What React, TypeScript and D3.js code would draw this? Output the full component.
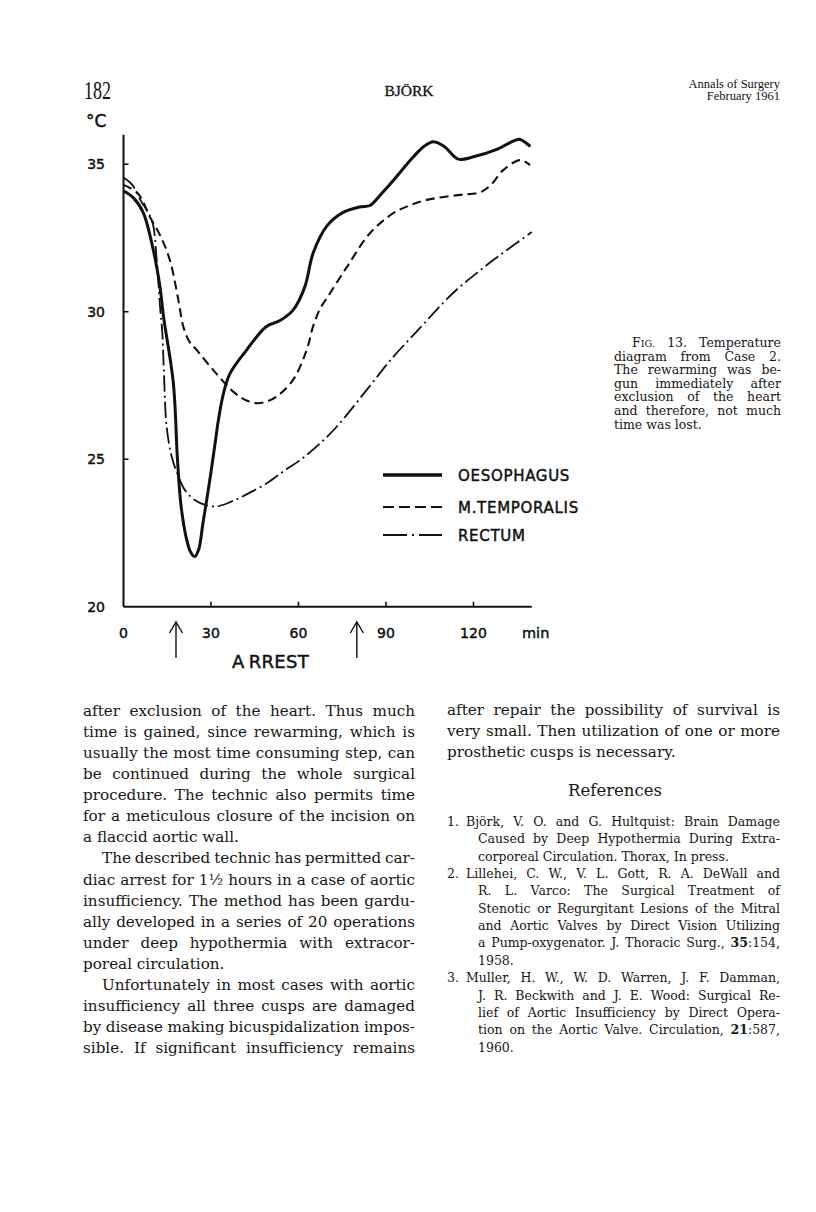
import React from 'react';
import * as d3 from 'd3';

// ---------- chart data ----------
const xTicks = [0, 30, 60, 90, 120];
const yTicks = [20, 25, 30, 35];
const arrestTimes = [18, 80];

const oesophagusT = [0, 3.5, 6.8, 10.2, 12.5, 13.7, 17.1, 18.5, 19.75, 21.6, 23, 24.4, 25.8, 27.2, 29.6, 31.5, 32.5, 34.2, 36.5, 42.2, 49, 53.7, 58.2, 62.2, 65, 69.7, 75, 81, 84.5, 88, 92.5, 99.4, 103, 106.2, 110, 114.8, 120, 128, 134, 136, 139.5];
const oesophagusV = [34.1, 33.85, 33.35, 32.1, 30.85, 29.85, 27.57, 25, 23.4, 22.3, 21.85, 21.7, 21.95, 22.8, 24.3, 25.6, 26.3, 27.2, 27.9, 28.7, 29.5, 29.7, 30.06, 30.85, 31.98, 32.9, 33.35, 33.55, 33.6, 33.95, 34.45, 35.25, 35.6, 35.76, 35.6, 35.17, 35.25, 35.5, 35.8, 35.84, 35.6];

const temporalisT = [0, 5, 9.1, 12.5, 15.9, 18.8, 20.5, 22.5, 25.1, 30.8, 37.6, 42, 45.7, 49, 52.5, 58.2, 62.8, 65, 67.4, 70, 76.5, 84.5, 92.5, 98, 104, 115.4, 120, 122.8, 126, 130.2, 136, 139.4];
const temporalisV = [34.3, 34.0, 33.2, 32.6, 31.75, 30.4, 29.5, 29.0, 28.7, 28.02, 27.29, 27.0, 26.9, 26.95, 27.12, 27.7, 28.7, 29.5, 30.1, 30.5, 31.5, 32.66, 33.34, 33.6, 33.79, 33.96, 34.0, 34.07, 34.3, 34.8, 35.14, 34.97];

const rectumT = [0, 3, 5.7, 9.7, 11.4, 12.5, 13.3, 13.8, 14.8, 16.5, 18.5, 21, 24.7, 28, 32, 37, 43, 49.4, 55, 61, 67, 73.1, 83.4, 92.5, 101.7, 109.6, 115.4, 121, 126.8, 133, 140];
const rectumV = [34.55, 34.3, 33.8, 33.1, 31.75, 30.2, 29.3, 28.1, 26.1, 25.1, 24.5, 23.96, 23.6, 23.45, 23.4, 23.56, 23.85, 24.2, 24.6, 25.0, 25.5, 26.1, 27.35, 28.47, 29.45, 30.3, 30.85, 31.3, 31.75, 32.2, 32.7];

const seriesNames = ['OESOPHAGUS', 'M.TEMPORALIS', 'RECTUM'];

// ---------- page text ----------
const leftParas = [
  { indent: false, lines: [
    'after exclusion of the heart. Thus much',
    'time is gained, since rewarming, which is',
    'usually the most time consuming step, can',
    'be continued during the whole surgical',
    'procedure. The technic also permits time',
    'for a meticulous closure of the incision on',
    'a flaccid aortic wall.'] },
  { indent: true, lines: [
    'The described technic has permitted car-',
    'diac arrest for 1½ hours in a case of aortic',
    'insufficiency. The method has been gardu-',
    'ally developed in a series of 20 operations',
    'under deep hypothermia with extracor-',
    'poreal circulation.'] },
  { indent: true, lastJustified: true, lines: [
    'Unfortunately in most cases with aortic',
    'insufficiency all three cusps are damaged',
    'by disease making bicuspidalization impos-',
    'sible. If significant insufficiency remains'] },
];

const rightLines = [
  'after repair the possibility of survival is',
  'very small. Then utilization of one or more',
  'prosthetic cusps is necessary.',
];

const captionLines = [
  'F^IG.^ 13. Temperature',
  'diagram from Case 2.',
  'The rewarming was be-',
  'gun immediately after',
  'exclusion of the heart',
  'and therefore, not much',
  'time was lost.',
];

const references = [
  { num: '1.', lines: [
    'Björk, V. O. and G. Hultquist: Brain Damage',
    'Caused by Deep Hypothermia During Extra-',
    'corporeal Circulation. Thorax, In press.'] },
  { num: '2.', lines: [
    'Lillehei, C. W., V. L. Gott, R. A. DeWall and',
    'R. L. Varco: The Surgical Treatment of',
    'Stenotic or Regurgitant Lesions of the Mitral',
    'and Aortic Valves by Direct Vision Utilizing',
    'a Pump-oxygenator. J. Thoracic Surg., *35*:154,',
    '1958.'] },
  { num: '3.', lines: [
    'Muller, H. W., W. D. Warren, J. F. Damman,',
    'J. R. Beckwith and J. E. Wood: Surgical Re-',
    'lief of Aortic Insufficiency by Direct Opera-',
    'tion on the Aortic Valve. Circulation, *21*:587,',
    '1960.'] },
];

// ---------- text helpers ----------
const SERIF_NAME = 'DejaVu Serif';
const SERIF = '"DejaVu Serif", "Liberation Serif", serif';
const HEAD = '"Liberation Serif", "Times New Roman", serif';
const SANS = '"DejaVu Sans", Verdana, sans-serif';
let ctx: CanvasRenderingContext2D | null = null;
function measure(text: string, size: number, bold = false) {
  if (!ctx) ctx = document.createElement('canvas').getContext('2d');
  ctx!.font = `${bold ? 'bold ' : ''}${size}px "${SERIF_NAME}"`;
  return ctx!.measureText(text).width;
}
type Seg = { t: string; b: boolean; s: boolean };
function parseWord(w: string): Seg[] {
  const segs: Seg[] = [];
  const re = /(\*[^*]+\*|\^[^^]+\^|[^*^]+)/g;
  let m;
  while ((m = re.exec(w))) {
    const p = m[0];
    if (p.startsWith('*')) segs.push({ t: p.slice(1, -1), b: true, s: false });
    else if (p.startsWith('^')) segs.push({ t: p.slice(1, -1), b: false, s: true });
    else segs.push({ t: p, b: false, s: false });
  }
  return segs;
}
function segSize(s: Seg, size: number) { return s.s ? size * 0.78 : size; }
function wordWidth(w: string, size: number) {
  return parseWord(w).reduce((a, s) => a + measure(s.t, segSize(s, size), s.b), 0);
}

const INK = '#161616';

function TextLine({ text, x, width, y, size, justify }: { text: string; x: number; width: number; y: number; size: number; justify: boolean }) {
  const words = text.split(' ');
  let widths = words.map((w) => wordWidth(w, size));
  const total = widths.reduce((a, b) => a + b, 0);
  const space = measure(' ', size);
  let gap = justify && words.length > 1 ? (width - total) / (words.length - 1) : space;
  let squeeze = 1;
  const minGap = size * 0.22;
  if (justify && gap < minGap) {
    gap = minGap;
    squeeze = (width - minGap * (words.length - 1)) / total;
    widths = widths.map((w) => w * squeeze);
  }
  let cx = x;
  return (
    <g>
      {words.map((w, i) => {
        const px = cx;
        cx += widths[i] + gap;
        const extra = squeeze < 1 ? { textLength: widths[i], lengthAdjust: 'spacingAndGlyphs' } : {};
        return (
          <text key={i} x={px} y={y} fontFamily={SERIF} fontSize={size} fill={INK} {...extra}>
            {parseWord(w).map((s, k) => (
              <tspan key={k} fontWeight={s.b ? 'bold' : 'normal'} fontSize={segSize(s, size)}>{s.t}</tspan>
            ))}
          </text>
        );
      })}
    </g>
  );
}

// ---------- chart geometry ----------
const x = d3.scaleLinear().domain([0, 140]).range([123.5, 531.8]);
const y = d3.scaleLinear().domain([20, 36]).range([606.7, 134.7]);
const line = d3.line<[number, number]>().x((d) => x(d[0])).y((d) => y(d[1])).curve(d3.curveCatmullRom.alpha(0.5));
const zip = (t: number[], v: number[]) => t.map((tt, i) => [tt, v[i]] as [number, number]);

const series = [
  { name: seriesNames[0], data: zip(oesophagusT, oesophagusV), width: 3, dash: 'none', legendDash: 'none', lw: 3.4 },
  { name: seriesNames[1], data: zip(temporalisT, temporalisV), width: 2.1, dash: '9,5', legendDash: '11,5', lw: 2.2 },
  { name: seriesNames[2], data: zip(rectumT, rectumV), width: 1.8, dash: '16,4,2,4', legendDash: '24,5,2,5', lw: 2 },
];

export default function App() {
  const ink = '#111';
  const lab = { fontFamily: SANS, fill: ink, stroke: ink, strokeWidth: 0.45 } as const;
  const leftX = 83, leftW = 332, rightX = 447, rightW = 333;
  const bodySize = 15.2;
  let li = 0;
  return (
    <svg width={816} height={1212} style={{ position: 'absolute', left: 0, top: 0, background: '#fff' }}>
      <rect width={816} height={1212} fill="#fff" />
      {/* header */}
      <text x={84} y={99} fontFamily={HEAD} fontSize={25} textLength={27} lengthAdjust="spacingAndGlyphs" fill={ink}>182</text>
      <text x={409} y={96} fontFamily={HEAD} fontSize={15.5} textAnchor="middle" fill={ink} stroke={ink} strokeWidth={0.3}>BJÖRK</text>
      <text x={780} y={88} fontFamily={HEAD} fontSize={12.5} textAnchor="end" fill={ink}>Annals of Surgery</text>
      <text x={780} y={100} fontFamily={HEAD} fontSize={12.5} textAnchor="end" fill={ink}>February 1961</text>

      {/* axes */}
      <text x={86} y={127} fontSize={17} {...lab}>°C</text>
      <line x1={x(0)} x2={x(0)} y1={y(20)} y2={y(36)} stroke={ink} strokeWidth={2} />
      <line x1={x(0)} x2={x(140)} y1={y(20)} y2={y(20)} stroke={ink} strokeWidth={2} />
      {yTicks.map((t) => (
        <g key={t}>
          {t > 20 && <line x1={x(0)} x2={x(0) + 5} y1={y(t)} y2={y(t)} stroke={ink} strokeWidth={1.6} />}
          <text x={105} y={y(t) + 5} fontSize={14} textAnchor="end" {...lab}>{t}</text>
        </g>
      ))}
      {xTicks.map((t) => (
        <g key={t}>
          {t > 0 && <line x1={x(t)} x2={x(t)} y1={y(20)} y2={y(20) - 5} stroke={ink} strokeWidth={1.6} />}
          <text x={x(t)} y={638} fontSize={14} textAnchor="middle" {...lab}>{t}</text>
        </g>
      ))}
      <text x={522} y={638} fontSize={14.5} {...lab}>min</text>
      {arrestTimes.map((t) => (
        <g key={t} fill="none" stroke={ink} strokeWidth={1.4}>
          <line x1={x(t)} x2={x(t)} y1={622} y2={658} />
          <polyline points={`${x(t) - 6.5},${633} ${x(t)},${622} ${x(t) + 6.5},${633}`} />
        </g>
      ))}
      <text x={232} y={668} fontSize={18} {...lab} letterSpacing={0.3}>A<tspan dx={4}>RREST</tspan></text>

      {/* curves */}
      {series.map((s) => (
        <path key={s.name} d={line(s.data) || ''} fill="none" stroke={ink} strokeWidth={s.width} strokeDasharray={s.dash} strokeLinecap="butt" strokeLinejoin="round" />
      ))}

      {/* legend */}
      {series.map((s, i) => {
        const ly = [475, 507, 535][i];
        return (
          <g key={s.name}>
            <line x1={383} x2={442} y1={ly} y2={ly} stroke={ink} strokeWidth={s.lw} strokeDasharray={s.legendDash} />
            <text x={458} y={ly + 6} fontSize={15} letterSpacing={0.7} {...lab}>{s.name}</text>
          </g>
        );
      })}

      {/* caption */}
      {captionLines.map((t, i) => (
        <TextLine key={i} text={t} x={i === 0 ? 632 : 614} width={i === 0 ? 149 : 167} y={347 + 13.6 * i} size={12.5} justify={i < captionLines.length - 1} />
      ))}

      {/* left column */}
      {leftParas.map((p, pi) => (
        <g key={pi}>
          {p.lines.map((t, i) => {
            const row = li++;
            const ind = p.indent && i === 0 ? 19 : 0;
            const last = i === p.lines.length - 1 && !p.lastJustified;
            return <TextLine key={i} text={t} x={leftX + ind} width={leftW - ind} y={716 + 21.07 * row} size={bodySize} justify={!last} />;
          })}
        </g>
      ))}

      {/* right column */}
      {rightLines.map((t, i) => (
        <TextLine key={i} text={t} x={rightX} width={rightW} y={715 + 21 * i} size={bodySize} justify={i < rightLines.length - 1} />
      ))}
      <text x={615} y={796} fontFamily={SERIF} fontSize={16.5} textAnchor="middle" fill={INK}>References</text>
      {(() => {
        let row = 0;
        return references.map((r, ri) => (
          <g key={ri}>
            {r.lines.map((t, i) => {
              const yy = 826 + 17.35 * row++;
              const first = i === 0;
              const lx = first ? 466 : 478;
              return (
                <g key={i}>
                  {first && <text x={447} y={yy} fontFamily={SERIF} fontSize={12.5} fill={INK}>{r.num}</text>}
                  <TextLine text={t} x={lx} width={780 - lx} y={yy} size={12.5} justify={i < r.lines.length - 1} />
                </g>
              );
            })}
          </g>
        ));
      })()}
    </svg>
  );
}
